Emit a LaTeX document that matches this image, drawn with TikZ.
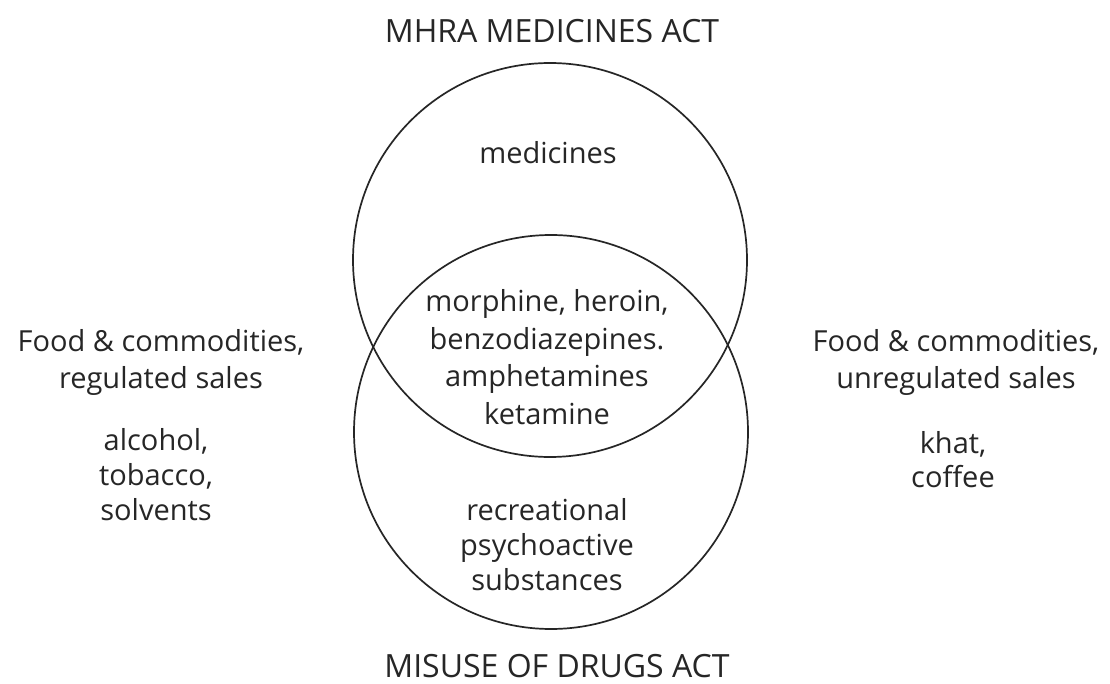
\documentclass[tikz,border=0pt]{standalone}
\usepackage{fontspec}
\setmainfont{Open Sans}
\begin{document}
\begin{tikzpicture}[x=1pt,y=-1pt,
  ring/.style={draw=black!85, line width=1.7pt},
  lbl/.style={align=center, text=black!85, inner sep=0pt,
    font=\fontsize{29}{36}\selectfont},
  ttl/.style={text=black!85, inner sep=0pt,
    font=\fontsize{32}{36}\selectfont}]
\useasboundingbox[fill=white] (0,0) rectangle (1110,684);
% circles
\draw[ring] (550,260) circle[radius=197];
\draw[ring] (551,432) circle[radius=197];
% titles
\node[ttl] (mhra) at (552,31) {MHRA MEDICINES ACT};
\node[ttl] (mda) at (557,666) {MISUSE OF DRUGS ACT};
% regions
\node[lbl] (med) at (548,153) {medicines};
\node[lbl, font=\fontsize{29}{37.5}\selectfont] (both) at (547,357) {morphine, heroin,\\benzodiazepines.\\amphetamines\\ketamine};
\node[lbl, font=\fontsize{29}{35}\selectfont] (rec) at (547,545) {recreational\\psychoactive\\substances};
% left
\node[lbl, font=\fontsize{29}{37}\selectfont] (lhead) at (161,362) {Food \& commodities,\\regulated sales};
\node[lbl, font=\fontsize{29}{35}\selectfont] (litems) at (156,475) {alcohol,\\tobacco,\\solvents};
% right
\node[lbl, font=\fontsize{29}{37}\selectfont] (rhead) at (956,362) {Food \& commodities,\\unregulated sales};
\node[lbl, font=\fontsize{29}{34}\selectfont] (ritems) at (953,460) {khat,\\coffee};
\end{tikzpicture}
\end{document}
